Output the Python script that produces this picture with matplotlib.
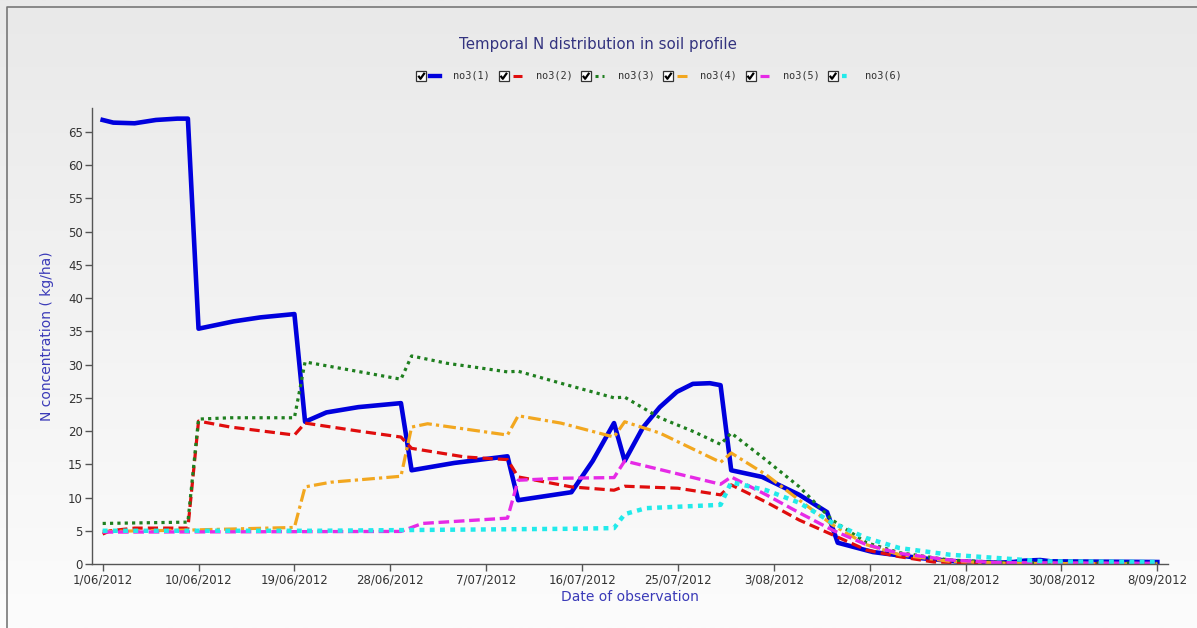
import numpy as np
import matplotlib
matplotlib.use("Agg")
import matplotlib.pyplot as plt
from matplotlib.patches import Rectangle
from matplotlib.lines import Line2D

# ---------------- data ----------------
title = "Temporal N distribution in soil profile"
xlabel = "Date of observation"
ylabel = "N concentration ( kg/ha)"
tick_days = [0, 9, 18, 27, 36, 45, 54, 63, 72, 81, 90, 99]
tick_labels = ["1/06/2012", "10/06/2012", "19/06/2012", "28/06/2012", "7/07/2012",
               "16/07/2012", "25/07/2012", "3/08/2012", "12/08/2012", "21/08/2012",
               "30/08/2012", "8/09/2012"]
y_ticks = [0, 5, 10, 15, 20, 25, 30, 35, 40, 45, 50, 55, 60, 65]
series_names = ["no3(1)", "no3(2)", "no3(3)", "no3(4)", "no3(5)", "no3(6)"]

no3_1_days = [0, 1, 3, 5, 7, 8, 9, 12.3, 14.8, 18, 19, 21, 24, 28, 29, 33, 38, 39, 44, 46, 48, 49,
              50.7, 52.3, 53.9, 55.4, 57, 58, 59, 61.9, 65.4, 68, 69, 72.3, 76.7, 80, 84, 85.5,
              86.5, 88, 89, 99]
no3_1_vals = [66.8, 66.4, 66.3, 66.8, 67.0, 67.0, 35.4, 36.5, 37.1, 37.6, 21.4, 22.8, 23.6, 24.2,
              14.1, 15.2, 16.2, 9.6, 10.8, 15.5, 21.2, 15.5, 20.5, 23.6, 25.9, 27.1, 27.2, 26.9,
              14.1, 13.1, 10.4, 7.8, 3.2, 1.8, 0.9, 0.4, 0.2, 0.3, 0.5, 0.6, 0.4, 0.3]

no3_2_days = [0, 0.7, 3, 8, 9, 12, 15, 18, 19, 24, 28, 29, 34, 38, 39, 44, 48, 49, 54, 58, 59,
              62.3, 65.4, 68.5, 71.7, 74.8, 78, 84, 99]
no3_2_vals = [4.5, 5.0, 5.4, 5.4, 21.5, 20.6, 20.0, 19.4, 21.2, 20.0, 19.1, 17.4, 16.1, 15.7,
              13.1, 11.6, 11.1, 11.7, 11.4, 10.4, 11.9, 9.3, 6.6, 4.4, 2.1, 1.1, 0.3, 0.1, 0.0]

no3_3_days = [0, 8, 9, 12, 18, 19, 28, 29, 32.3, 35.4, 38, 39, 43, 48, 49, 52.3, 55.5, 58, 59,
              62.3, 65.4, 68.5, 71.7, 74.8, 79.5, 85, 99]
no3_3_vals = [6.1, 6.3, 21.8, 22.0, 22.0, 30.4, 27.8, 31.3, 30.2, 29.5, 28.9, 29.0, 27.2, 25.0,
              25.1, 22.0, 19.9, 18.0, 19.7, 15.6, 11.6, 6.6, 3.2, 1.7, 0.6, 0.2, 0.1]

no3_4_days = [0, 8, 18, 19, 21.4, 28, 29, 30.5, 38, 39, 43, 48, 49, 52.3, 58, 59, 62.3, 65.4,
              68.5, 71.7, 74.8, 79.5, 85, 99]
no3_4_vals = [4.9, 5.1, 5.5, 11.6, 12.3, 13.2, 20.6, 21.1, 19.4, 22.3, 21.2, 19.1, 21.4, 19.7,
              15.3, 16.7, 13.4, 9.6, 5.9, 2.9, 1.4, 0.4, 0.1, 0.0]

no3_5_days = [0, 28, 30, 38, 39, 43, 48, 49, 58, 59, 62.3, 65.4, 68.5, 71.7, 74.8, 79.5, 84, 99]
no3_5_vals = [4.8, 4.9, 6.1, 6.9, 12.6, 12.9, 13.0, 15.5, 12.0, 13.1, 10.4, 7.7, 5.1, 2.9, 1.6,
              0.6, 0.2, 0.1]

no3_6_days = [0, 20, 44, 48, 49, 51, 58, 59, 62.3, 65.4, 68.5, 71.7, 74.8, 79.5, 84, 88.4, 99]
no3_6_vals = [5.0, 5.0, 5.3, 5.4, 7.5, 8.4, 8.9, 12.3, 11.1, 9.2, 6.2, 3.9, 2.4, 1.4, 0.9, 0.4, 0.3]

# ---------------- styles ----------------
colors = ["#0000dd", "#e00d0d", "#1f7f1f", "#f2a71f", "#e62ae6", "#22eaea"]
lws = [3.3, 2.3, 2.3, 2.3, 2.4, 3.2]
dashes = [None, (3.2, 1.6), (1.0, 1.3), (4.0, 1.3, 1.0, 1.3), (3.2, 1.4), (1.1, 1.2)]

W, H = 1197, 628
fig = plt.figure(figsize=(W / 100, H / 100), dpi=100)

# background with gradient + frame + legend (pixel coordinates)
bg = fig.add_axes([0, 0, 1, 1], zorder=-1)
bg.set_xlim(0, W)
bg.set_ylim(H, 0)
bg.axis("off")
grad = np.linspace(0, 1, 256).reshape(-1, 1)
from matplotlib.colors import LinearSegmentedColormap
cm = LinearSegmentedColormap.from_list("g", ["#e9e9e9", "#fcfcfc"])
bg.imshow(grad, cmap=cm, extent=[0, W, H, 0], aspect="auto", zorder=0)
bg.plot([6.5, 6.5, W], [H, 7, 7], color="#777777", lw=1.2, zorder=1)

# title
bg.text(598, 44.5, title, ha="center", va="center", fontsize=10.8,
        color="#33337f", family="DejaVu Sans")

# legend
leg_y = 76
for i, name in enumerate(series_names):
    bx = 421.3 + i * 82.3
    bg.add_patch(Rectangle((bx - 5, leg_y - 5), 10, 10, facecolor="white",
                           edgecolor="#333333", lw=0.9, zorder=2))
    bg.plot([bx - 3, bx - 0.8, bx + 3.4], [leg_y - 0.2, leg_y + 2.8, leg_y - 3.2],
            color="black", lw=1.6, zorder=3, solid_capstyle="butt")
    ln = Line2D([bx + 9, bx + 18.5], [leg_y, leg_y], color=colors[i], lw=lws[i] * 0.95, zorder=2)
    if dashes[i] is not None:
        ln.set_dashes(dashes[i])
    bg.add_line(ln)
    bg.text(bx + 32, leg_y, name, ha="left", va="center", fontsize=7.4,
            family="DejaVu Sans Mono", color="#333333")

# main axes
x0, x1 = 92, 1168
y0, y1 = 108, 564
ax = fig.add_axes([x0 / W, 1 - y1 / H, (x1 - x0) / W, (y1 - y0) / H])
ax.patch.set_alpha(0)

all_days = [no3_1_days, no3_2_days, no3_3_days, no3_4_days, no3_5_days, no3_6_days]
all_vals = [no3_1_vals, no3_2_vals, no3_3_vals, no3_4_vals, no3_5_vals, no3_6_vals]
for i in range(6):
    line, = ax.plot(all_days[i], all_vals[i], color=colors[i], lw=lws[i],
                    solid_joinstyle="round", dash_joinstyle="round", label=series_names[i])
    if dashes[i] is not None:
        line.set_dashes(dashes[i])

ax.set_xlim(-1, 100)
ax.set_ylim(0, 68.6)
ax.set_xticks(tick_days)
ax.set_xticklabels(tick_labels)
ax.set_yticks(y_ticks)
for s in ["top", "right"]:
    ax.spines[s].set_visible(False)
for s in ["left", "bottom"]:
    ax.spines[s].set_color("#555555")
    ax.spines[s].set_linewidth(1.0)
ax.tick_params(axis="both", colors="#555555", labelcolor="#333333", labelsize=8.5,
               length=5, width=1.0, direction="out", pad=1.5)
ax.set_xlabel(xlabel, fontsize=10, color="#3a3ab8", labelpad=3)
ax.set_ylabel(ylabel, fontsize=10, color="#3a3ab8", labelpad=10)

fig.savefig("out.png", dpi=100)
